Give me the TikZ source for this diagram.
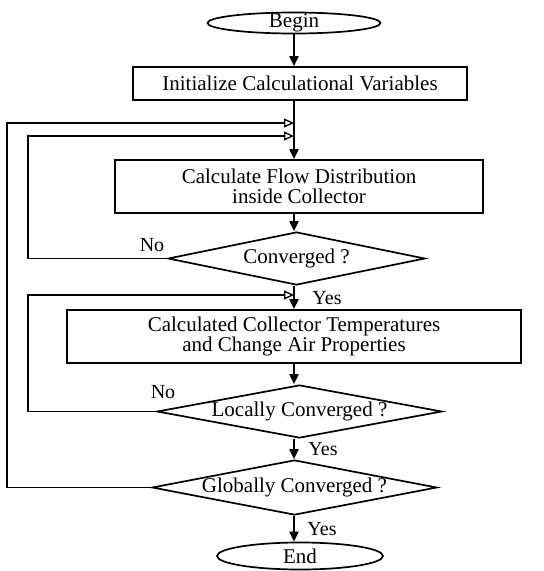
\documentclass[tikz,border=0pt]{standalone}
\usepackage{fontspec}
\setmainfont{Liberation Serif}
\usetikzlibrary{shapes.geometric, arrows.meta}

\begin{document}
\begin{tikzpicture}[x=1pt, y=-1pt,
        font=\fontsize{21}{19.5}\selectfont,
        term/.style={ellipse, draw, line width=1.7pt, inner sep=0pt},
        stepbox/.style={rectangle, draw, line width=1.7pt, inner sep=0pt, align=center},
        test/.style={diamond, draw, line width=1.7pt, inner sep=0pt},
        tag/.style={font=\fontsize{20}{20}\selectfont, inner sep=0pt},
        flow/.style={line width=1.9pt, -{Triangle[length=10pt, width=9pt]}},
        back/.style={line width=1.4pt, -{Triangle[open, length=10pt, width=9pt, line width=1.3pt]}}]
        \useasboundingbox (0, 0) rectangle (544, 571);
        \node[term, minimum width=173, minimum height=21, label=center:Begin] (begin) at (294, 23) {};
        \node[stepbox, minimum width=334, minimum height=33] (init) at (300, 83.5) {Initialize Calculational Variables};
        \node[stepbox, minimum width=368, minimum height=53] (dist) at (299, 186.5) {Calculate Flow Distribution\\inside Collector};
        \node[test, minimum width=257, minimum height=53, label=center:Converged ?] (conv) at (296.5, 258.5) {};
        \node[stepbox, minimum width=454, minimum height=53] (temp) at (294, 336.5) {Calculated Collector Temperatures\\and Change Air Properties};
        \node[test, minimum width=285, minimum height=53, label=center:Locally Converged ?] (local) at (299.5, 411.5) {};
        \node[test, minimum width=285, minimum height=55, label=center:Globally Converged ?] (global) at (294.5, 487.5) {};
        \node[term, minimum width=166, minimum height=27, label=center:End] (end) at (300, 556) {};
        \coordinate (outer) at (7, 0);
        \coordinate (inner) at (28, 0);
        \coordinate (m1) at (294, 123);
        \coordinate (m2) at (294, 136);
        \coordinate (m3) at (294, 295);
        \draw[flow] (begin.south -| 294, 0) -- (init.north -| 294, 0);
        \draw[flow] (init.south -| 294, 0) -- (dist.north -| 294, 0);
        \draw[flow] (dist.south -| 294, 0) -- (conv.north -| 294, 0);
        \draw[flow] (conv.south -| 294, 0) -- (temp.north -| 294, 0);
        \draw[flow] (temp.south -| 294, 0) -- (local.north -| 294, 0);
        \draw[flow] (local.south -| 294, 0) -- (global.north -| 294, 0);
        \draw[flow] (global.south -| 294, 0) -- (end.north -| 294, 0);
        \draw[back] (conv.west) -- (conv.west -| inner) |- (m2);
        \draw[back] (local.west) -- (local.west -| inner) |- (m3);
        \draw[back] (global.west) -- (global.west -| outer) |- (m1);
        \node[tag] (no1) at (152, 245) {No};
        \node[tag] (no2) at (163, 392) {No};
        \node[tag] (yes1) at (327, 298.5) {Yes};
        \node[tag] (yes2) at (323, 449.5) {Yes};
        \node[tag] (yes3) at (322, 529) {Yes};
    \end{tikzpicture}
\end{document}
